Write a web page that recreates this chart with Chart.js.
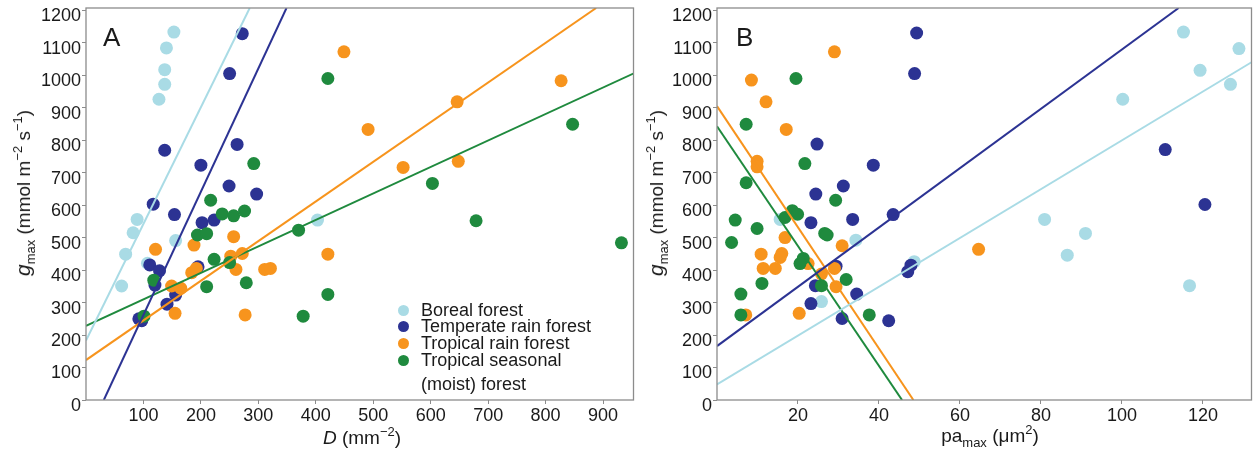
<!DOCTYPE html>
<html><head><meta charset="utf-8">
<script src="https://cdn.jsdelivr.net/npm/chart.js@4"></script>
<style>
html,body{margin:0;padding:0;background:#fff;}
#wrap{position:relative;width:1258px;height:450px;overflow:hidden;font-family:"Liberation Sans",Arial,Helvetica,sans-serif;color:#1a1a1a;}
canvas{position:absolute;top:0;}
.t{position:absolute;white-space:nowrap;font-size:19px;line-height:19px;}
.sub{font-size:13px;position:relative;top:5px;}
.sup{font-size:13px;position:relative;top:-8px;}
.ytitle{transform:translate(-50%,-50%) rotate(-90deg);}
.g{font-size:21px;}
.panel{position:absolute;font-size:26px;line-height:26px;}
.leg{position:absolute;font-size:18px;line-height:17px;white-space:nowrap;}
.dot{position:absolute;width:11px;height:11px;border-radius:50%;}
</style>
</head><body>
<div id="wrap">
<canvas id="cA" width="640" height="450" style="left:0px"></canvas>
<canvas id="cB" width="618" height="450" style="left:640px"></canvas>
<div class="panel" style="left:103px;top:24px">A</div>
<div class="panel" style="left:736px;top:24px">B</div>
<div class="t ytitle" style="left:24px;top:193px"><i class="g">g</i><span class="sub">max</span> (mmol m<span class="sup">−2</span> s<span class="sup">−1</span>)</div>
<div class="t ytitle" style="left:657px;top:193px"><i class="g">g</i><span class="sub">max</span> (mmol m<span class="sup">−2</span> s<span class="sup">−1</span>)</div>
<div class="t" style="left:362px;top:428px;transform:translateX(-50%)"><i>D</i> (mm<span class="sup">−2</span>)</div>
<div class="t" style="left:990px;top:426px;transform:translateX(-50%)">pa<span class="sub">max</span> (μm<span class="sup">2</span>)</div>
<div id="legend"></div>
</div>
<script>
// ---- series ----
const seriesNames = ["Boreal forest", "Temperate rain forest", "Tropical rain forest", "Tropical seasonal\n(moist) forest"];
const seriesColors = ["#a9dbe5", "#2c3393", "#f7941d", "#1f8a3e"];

// ---- Panel A: stomatal density D (mm^-2) vs gmax ----
const borealD  = [153, 140, 137, 137, 127, 89, 82, 69, 62, 156, 107, 403];
const borealGA = [1133, 1084, 1017, 972, 926, 556, 515, 449, 351, 491, 421, 554];
const temperateD  = [272, 250, 137, 263, 200, 249, 297, 117, 154, 202, 223, 111, 128, 120, 195, 141, 156, 92, 97];
const temperateGA = [1128, 1005, 769, 787, 723, 659, 634, 603, 571, 546, 554, 416, 398, 354, 410, 295, 323, 250, 244];
const rainD  = [449, 646, 827, 491, 552, 648, 421, 121, 149, 165, 155, 188, 184, 192, 257, 252, 261, 272, 277, 311, 321];
const rainGA = [1072, 918, 983, 833, 716, 735, 449, 464, 351, 344, 267, 477, 392, 405, 503, 443, 402, 451, 262, 402, 405];
const seasonalD  = [421, 292, 217, 237, 257, 276, 194, 210, 118, 101, 223, 250, 210, 279, 378, 370, 603, 847, 679, 932, 421];
const seasonalGA = [990, 728, 615, 573, 567, 582, 508, 512, 369, 258, 433, 423, 349, 361, 258, 523, 667, 849, 552, 484, 325];

// ---- Panel B: max pore area pa_max (um^2) vs gmax ----
const borealPa  = [115.2, 128.9, 119.3, 126.8, 100.2, 15.6, 80.9, 91.0, 34.3, 86.5, 48.7, 116.7, 25.8];
const borealGB  = [1133, 1082, 1015, 972, 926, 556, 556, 513, 492, 446, 426, 352, 303];
const temperatePa = [49.3, 48.8, 24.7, 110.7, 38.6, 31.2, 24.4, 120.5, 43.5, 33.5, 23.2, 29.4, 47.9, 47.1, 24.3, 34.5, 23.2, 30.9, 42.4];
const temperateGB = [1130, 1005, 788, 771, 723, 659, 634, 602, 571, 556, 546, 412, 415, 395, 352, 326, 297, 251, 244];
const rainPa = [29.0, 8.5, 12.1, 17.1, 9.9, 9.9, 16.8, 30.9, 10.9, 16.0, 15.6, 11.4, 14.4, 29.0, 22.5, 25.8, 29.4, 20.3, 7.1, 64.6];
const rainGB = [1072, 985, 918, 833, 735, 718, 500, 475, 449, 451, 439, 405, 405, 405, 420, 388, 349, 267, 262, 464];
const seasonalPa = [19.5, 7.2, 21.7, 7.2, 29.3, 18.6, 19.9, 16.8, 4.5, 9.9, 26.6, 27.2, 3.6, 21.3, 20.5, 11.1, 31.9, 25.8, 5.9, 5.9, 37.6];
const seasonalGB = [990, 849, 728, 669, 615, 583, 572, 562, 554, 528, 513, 508, 485, 436, 420, 359, 371, 352, 326, 262, 262];

// ---- fitted regression lines (endpoints: [x0, y0, x1, y1]) ----
const fitA = [[0, 183, 285, 1207], [31, 0, 349, 1207], [0, 123, 888, 1207], [0, 228, 955, 1007]];
const fitB = [[0, 48, 132, 1040], [0, 166, 114, 1207], [0, 905, 48.5, 0], [0, 843, 45.7, 0]];

// ---- axis ticks ----
const yTicks  = [0, 100, 200, 300, 400, 500, 600, 700, 800, 900, 1000, 1100, 1200];
const xTicksA = [100, 200, 300, 400, 500, 600, 700, 800, 900];
const xTicksB = [20, 40, 60, 80, 100, 120];
const yMax = 1207, xMaxA = 953, xMaxB = 132;

Chart.defaults.font.family = '"Liberation Sans", Arial, Helvetica, sans-serif';
Chart.defaults.color = '#1a1a1a';

const boxPlugin = {
  id: 'box',
  afterDraw(chart) {
    const a = chart.chartArea, c = chart.ctx;
    c.save(); c.strokeStyle = '#8c8c8c'; c.lineWidth = 1.3;
    c.strokeRect(a.left, a.top, a.right - a.left, a.bottom - a.top);
    c.restore();
  }
};

function pts(xs, ys) { return xs.map((x, i) => ({x: x, y: ys[i]})); }

function makeChart(id, xsList, ysList, fits, xMax, xTicks, yAxisWidth, rightPad) {
  const orders = [4, 3, 2, 1];
  const datasets = [];
  fits.forEach((f, i) => datasets.push({
    label: seriesNames[i] + ' fit', data: [{x: f[0], y: f[1]}, {x: f[2], y: f[3]}],
    showLine: true, borderColor: seriesColors[i], borderWidth: 2, pointRadius: 0, fill: false, order: 0
  }));
  xsList.forEach((xs, i) => datasets.push({
    label: seriesNames[i], data: pts(xs, ysList[i]),
    backgroundColor: seriesColors[i], borderWidth: 0, pointRadius: 6.5, pointHoverRadius: 6.5, order: orders[i]
  }));
  const grid = {drawOnChartArea: false, drawTicks: true, tickLength: 4, color: '#8c8c8c'};
  return new Chart(document.getElementById(id), {
    type: 'scatter',
    data: {datasets},
    plugins: [boxPlugin],
    options: {
      responsive: false, animation: false, devicePixelRatio: 1,
      layout: {padding: {left: 0, top: 8, right: rightPad, bottom: 0}},
      plugins: {legend: {display: false}, tooltip: {enabled: false}},
      scales: {
        x: {
          type: 'linear', min: 0, max: xMax,
          grid, border: {display: false},
          afterBuildTicks: s => { s.ticks = xTicks.map(v => ({value: v})); },
          ticks: {padding: 1, maxRotation: 0, autoSkip: false,
                  font: {size: 18}, color: '#1a1a1a',
                  callback: v => String(v)},
          afterFit: s => { s.height = 50; s.paddingLeft = 0; s.paddingRight = 0; }
        },
        y: {
          type: 'linear', min: 0, max: yMax,
          grid, border: {display: false},
          afterBuildTicks: s => { s.ticks = yTicks.map(v => ({value: v})); },
          ticks: {padding: 1, labelOffset: 6, autoSkip: false,
                  font: {size: 18}, color: '#1a1a1a',
                  callback: v => String(v)},
          afterFit: s => { s.width = yAxisWidth; s.paddingTop = 0; s.paddingBottom = 0; }
        }
      }
    }
  });
}

makeChart('cA', [borealD, temperateD, rainD, seasonalD], [borealGA, temperateGA, rainGA, seasonalGA], fitA, xMaxA, xTicksA, 86, 5);
makeChart('cB', [borealPa, temperatePa, rainPa, seasonalPa], [borealGB, temperateGB, rainGB, seasonalGB], fitB, xMaxB, xTicksB, 77, 1);

// ---- legend (inside panel A) ----
const legendRows = [301.7, 318.4, 334.7, 351.7];
const leg = document.getElementById('legend');
seriesNames.forEach((name, i) => {
  const d = document.createElement('div');
  d.className = 'dot';
  d.style.background = seriesColors[i];
  d.style.left = '397.5px';
  d.style.top = (legendRows[i] + 8.3 - 5.5) + 'px';
  leg.appendChild(d);
  name.split('\n').forEach((line, j) => {
    const t = document.createElement('div');
    t.className = 'leg';
    t.textContent = line;
    t.style.left = '421px';
    t.style.top = (legendRows[i] + j * 24) + 'px';
    leg.appendChild(t);
  });
});
</script>
</body></html>
